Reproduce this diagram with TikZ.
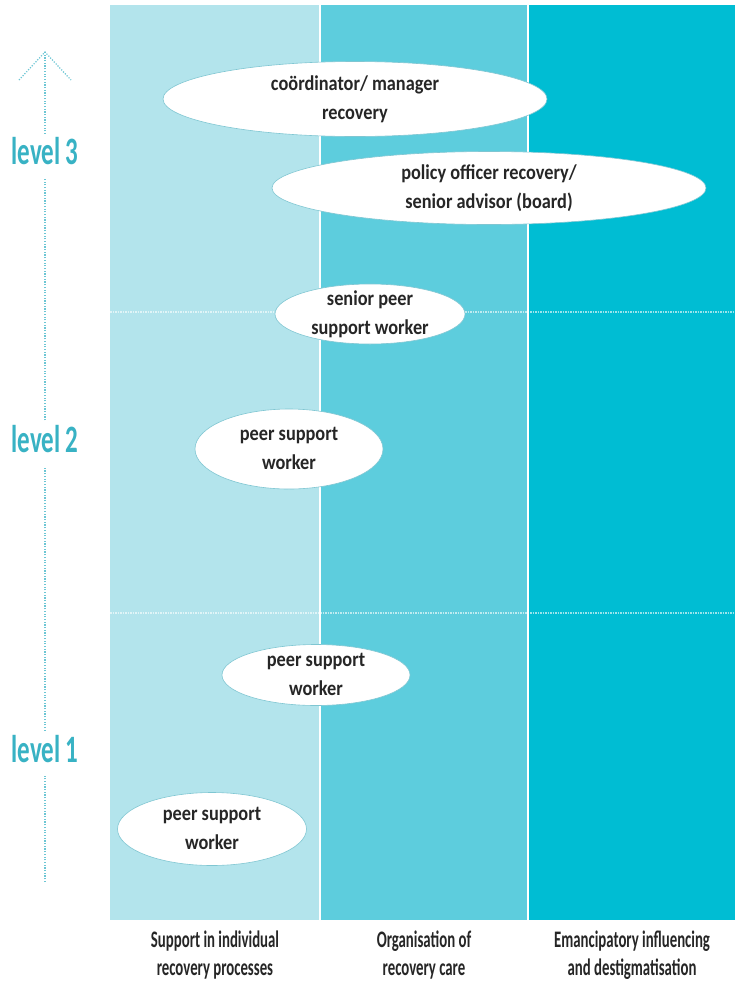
\documentclass[tikz,border=0pt]{standalone}
\usepackage{fontspec}
\usepackage{graphicx}
\setmainfont{Carlito}
\usetikzlibrary{shapes.geometric}
\definecolor{colA}{HTML}{B3E4EC}
\definecolor{colB}{HTML}{5DCDDD}
\definecolor{colC}{HTML}{00BDD3}
\definecolor{teal}{HTML}{38B2C4}
\definecolor{arr}{HTML}{6CC6D4}
\definecolor{rim}{HTML}{7FC6D2}
% vertically stretched text block
\newcommand\tallbox[2]{\scalebox{1}[#1]{\begin{tabular}{@{}c@{}}#2\end{tabular}}}
\tikzset{
  role/.style={ellipse, draw=rim, line width=0.6pt, fill=white, inner sep=0pt},
  roletext/.style={inner sep=0pt, font=\bfseries\fontsize{18.3}{26}\selectfont, align=center, text=black!85},
  lvl/.style={font=\bfseries\fontsize{25}{26}\selectfont, text=teal},
  colhead/.style={font=\bfseries\fontsize{14.8}{17.5}\selectfont, align=center, text=black!85},
}
\begin{document}
\begin{tikzpicture}[x=1pt,y=-1pt]
\useasboundingbox (0,0) rectangle (740,989);
\fill[white] (0,0) rectangle (740,989);
% columns
\fill[colA] (110,5) rectangle (319,920);
\fill[colB] (321,5) rectangle (527,920);
\fill[colC] (529,5) rectangle (735,920);
% level dividers
\draw[white, opacity=0.6, line width=1.5pt, dash pattern=on 1.5pt off 1pt] (110,312) -- (735,312);
\draw[white, opacity=0.6, line width=1.5pt, dash pattern=on 1.5pt off 1pt] (110,613) -- (735,613);
% arrow
\coordinate (abot) at (45,882);
\coordinate (atop) at (45,52);
\coordinate (al) at (19,80);
\coordinate (ar) at (71,80);
\draw[arr, line width=1.2pt, dash pattern=on 1.2pt off 1.5pt] (abot) -- (atop);
\draw[arr, line width=1.2pt, dash pattern=on 1.2pt off 1.5pt] (al) -- (atop) -- (ar);
% level labels
\node[lvl, fill=white, inner sep=1.5pt] (l3) at (45,156) {\tallbox{1.55}{level 3}};
\node[lvl, fill=white, inner sep=1.5pt] (l2) at (45,444) {\tallbox{1.55}{level 2}};
\node[lvl, fill=white, inner sep=1.5pt] (l1) at (45,754) {\tallbox{1.55}{level 1}};
% roles
\node[role, minimum width=384, minimum height=75,
  label={[roletext]center:\tallbox{1.15}{coördinator/ manager\\recovery}}] (coord) at (355,99) {};
\node[role, minimum width=434, minimum height=73,
  label={[roletext]center:\tallbox{1.15}{policy officer recovery/\\senior advisor (board)}}] (policy) at (489,188) {};
\node[role, minimum width=190, minimum height=60,
  label={[roletext]center:\tallbox{1.15}{senior peer\\support worker}}] (senior) at (370,314) {};
\node[role, minimum width=188, minimum height=80,
  label={[roletext]center:\tallbox{1.15}{peer support\\worker}}] (psw2) at (289,449) {};
\node[role, minimum width=188, minimum height=61,
  label={[roletext]center:\tallbox{1.15}{peer support\\worker}}] (psw1a) at (316,675) {};
\node[role, minimum width=189, minimum height=73,
  label={[roletext]center:\tallbox{1.15}{peer support\\worker}}] (psw1b) at (212,829) {};
% column heads
\node[colhead] (h1) at (215,956) {\tallbox{1.6}{Support in individual\\recovery processes}};
\node[colhead] (h2) at (424,956) {\tallbox{1.6}{Organisation of\\recovery care}};
\node[colhead] (h3) at (632,956) {\tallbox{1.6}{Emancipatory influencing\\and destigmatisation}};
\end{tikzpicture}
\end{document}
